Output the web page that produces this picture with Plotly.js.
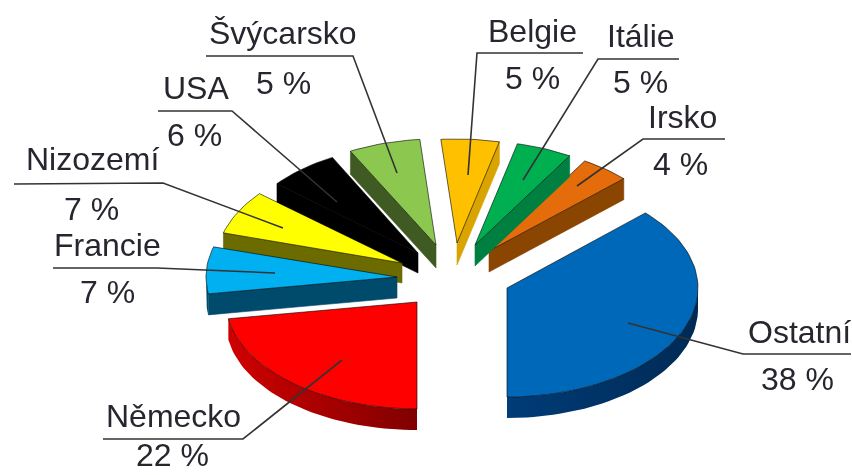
<!DOCTYPE html>
<html>
<head>
<meta charset="utf-8">
<script src="https://cdn.plot.ly/plotly-3.0.1.min.js"></script>
<style>
html,body{margin:0;padding:0;background:#fff;overflow:hidden}
#plot{width:852px;height:475px;filter:blur(0.7px)}
</style>
</head>
<body>
<div id="plot"></div>
<script>
// Data, in drawing order around the pie: clockwise from the bottom
const countries = ["Německo","Francie","Nizozemí","USA","Švýcarsko","Belgie","Itálie","Irsko","Ostatní"];
const percentLabels = [22,7,7,6,5,5,5,4,38];
// Slice sizes as measured on the picture
const shares = [22.5,7.0,6.6,6.2,6.3,5.1,4.9,4.3,37.1];

// Styles
const topColors  = ["#FF0000","#00B0F0","#FFFF00","#000000","#8CC850","#FFC000","#00B050","#E46C0A","#0068B8"];
const sideColors = ["#800000","#004A6B","#6B6B00","#000000","#3F5A22","#D9A300","#008040","#8A4500","#002A55"];
const rimColors  = ["#D00000","#004A6B","#6B6B00","#000000","#3F5A22","#D9A300","#008040","#8A4500","#003C78"];

// Geometry of the exploded slices
const apexX = [417,397,402,418,436,457,475,489,507];
const apexY = [302,277,263,253,245,243,245,251,288];
const depth = [21,21,20,20,23,22,21,21,21];
const radiusX = [191,191,186,184,184,184,184,186,191];
const radiusY = [107,108,108,108,106,104,104,105,109];
const paintOrder = [8,7,6,5,4,3,2,1,0];

// Label placement: name centre/middle, percent centre/middle, leader polyline
const nameX = [173,107,92,196,283,532,641,682,799];
const nameY = [416,245,159,88,33,31,36,117,332];
const pctX  = [172,107,91,194,283,532,640,680,797];
const pctY  = [455,292,209,135,83,78,82,164,379];
const leaderX = [[342,243,103],[275,157,53],[283,163,14],[337,232,158],[397,353,206],[468,477,583],[523,598,679],[577,643,725],[628,743,851]];
const leaderY = [[360,439,439],[273,268,268],[228,183,184],[202,111,111],[173,56,56],[175,53,53],[180,59,59],[186,139,139],[323,354,354]];

const total = shares.reduce((a,b)=>a+b,0);
const D2R = Math.PI/180;

const traces = [];
function poly(xs,ys,fill,lineColor,lineWidth,gradient){
  const tr = {type:"scatter",mode:"lines",x:xs,y:ys,fill:"toself",fillcolor:fill,
    line:{color:lineColor,width:lineWidth},hoverinfo:"skip",showlegend:false};
  if(gradient) tr.fillgradient = gradient;
  traces.push(tr);
}

let cum = 0;
const slices = shares.map(s=>{
  const a0 = cum/total*360; cum += s; const a1 = cum/total*360;
  return [a0,a1];
});

paintOrder.forEach(i=>{
  const [a0,a1] = slices[i];
  const cx=apexX[i], cy=apexY[i], t=depth[i], ry=radiusY[i], rx=radiusX[i];
  const n = Math.max(4,Math.ceil((a1-a0)/2));
  const ax=[cx], ay=[cy];
  for(let k=0;k<=n;k++){
    const th=(a0+(a1-a0)*k/n)*D2R;
    ax.push(cx-rx*Math.sin(th)); ay.push(cy+ry*Math.cos(th));
  }
  ax.push(cx); ay.push(cy);
  const last = ax.length-2;
  // cut faces that look towards the viewer
  [0,last].forEach(k=>{
    const dx=ax[k+1]-ax[k], dy=ay[k+1]-ay[k];
    if(dx>=0 || Math.abs(dx)/Math.abs(dy)<0.3) return;
    poly([ax[k],ax[k+1],ax[k+1],ax[k],ax[k]],
         [ay[k],ay[k+1],ay[k+1]+t,ay[k]+t,ay[k]],sideColors[i],sideColors[i],0.6);
  });
  // rim: the part of the arc that looks towards the viewer
  const rimX=[], rimY=[];
  for(let k=1;k<last;k++){
    if(ax[k+1]-ax[k]<0){
      if(!rimX.length){rimX.push(ax[k]);rimY.push(ay[k]);}
      rimX.push(ax[k+1]);rimY.push(ay[k+1]);
    }
  }
  if(rimX.length){
    const xs=rimX.concat(rimX.slice().reverse());
    const ys=rimY.concat(rimY.slice().reverse().map(v=>v+t));
    xs.push(xs[0]); ys.push(ys[0]);
    poly(xs,ys,rimColors[i],"rgba(0,0,0,0)",0,
      {type:"horizontal",colorscale:[[0,rimColors[i]],[1,sideColors[i]]]});
  }
  poly(ax,ay,topColors[i],"rgba(0,0,0,0.75)",0.8);
});

// Leader lines
countries.forEach((c,i)=>{
  traces.push({type:"scatter",mode:"lines",x:leaderX[i],y:leaderY[i],
    line:{color:"#333333",width:1.6},hoverinfo:"skip",showlegend:false});
});

const textFont = {family:"Liberation Sans, Arial, sans-serif",size:32,color:"#26262f"};
const annotations = [];
countries.forEach((c,i)=>{
  annotations.push({x:nameX[i],y:nameY[i],xref:"x",yref:"y",text:c,showarrow:false,xanchor:"center",yanchor:"middle",font:textFont});
  annotations.push({x:pctX[i],y:pctY[i],xref:"x",yref:"y",text:percentLabels[i]+" %",showarrow:false,xanchor:"center",yanchor:"middle",font:textFont});
});

Plotly.newPlot("plot",traces,{
  width:852,height:475,
  margin:{l:0,r:0,t:0,b:0},
  paper_bgcolor:"#fff",plot_bgcolor:"#fff",
  xaxis:{range:[0,852],visible:false,fixedrange:true},
  yaxis:{range:[475,0],visible:false,fixedrange:true},
  showlegend:false,
  annotations:annotations
},{displayModeBar:false,staticPlot:true});
</script>
</body>
</html>
